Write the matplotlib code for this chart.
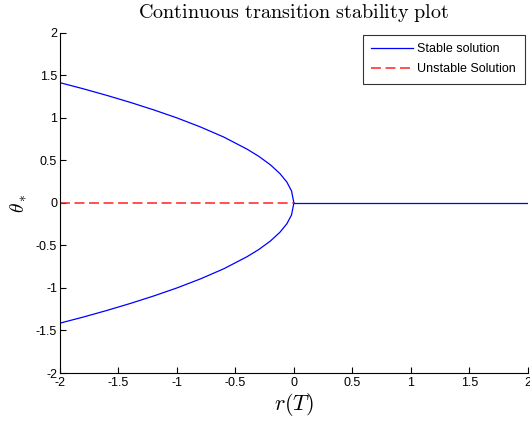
import matplotlib
matplotlib.use("Agg")
import matplotlib.pyplot as plt

plt.rcParams['mathtext.fontset'] = 'cm'
plt.rcParams['font.family'] = ['Liberation Sans', 'DejaVu Sans']

# Stable branch (upper and lower) for r < 0, and zero branch for r > 0
r_neg = [-2.0, -1.8, -1.6, -1.4, -1.2, -1.0, -0.8, -0.6, -0.4, -0.3, -0.2, -0.12, -0.06, -0.02, 0.0]
theta_up = [1.414, 1.342, 1.265, 1.183, 1.095, 1.0, 0.894, 0.775, 0.632, 0.548, 0.447, 0.346, 0.245, 0.141, 0.0]
theta_dn = [-v for v in theta_up]
r_pos = [0.0, 2.0]
theta_pos = [0.0, 0.0]

# Unstable branch: theta = 0 for r < 0
r_unst = [-2.0, 0.0]
theta_unst = [0.0, 0.0]

ticks = [-2, -1.5, -1, -0.5, 0, 0.5, 1, 1.5, 2]
tick_labels = ['-2', '-1.5', '-1', '-0.5', '0', '0.5', '1', '1.5', '2']

fig = plt.figure(figsize=(5.30, 4.21), dpi=100)
ax = fig.add_axes([0.113, 0.114, 0.883, 0.808])

blue = '#0000ff'
ax.plot(r_neg, theta_up, color=blue, lw=0.9, label='Stable solution')
ax.plot(r_neg, theta_dn, color=blue, lw=0.9)
ax.plot(r_pos, theta_pos, color=blue, lw=0.9)
ax.plot(r_unst, theta_unst, color='#ff2020', lw=1.1, ls=(0, (6.5, 3.0)),
        label='Unstable Solution')

ax.set_xlim(-2, 2)
ax.set_ylim(-2, 2)
ax.set_xticks(ticks)
ax.set_xticklabels(tick_labels)
ax.set_yticks(ticks)
ax.set_yticklabels(tick_labels)
ax.spines['top'].set_visible(False)
ax.spines['right'].set_visible(False)
ax.tick_params(direction='in', length=4, width=0.8, labelsize=9, pad=2)
ax.tick_params(axis='x', pad=3)

ax.set_title(r'$\mathrm{Continuous\ transition\ stability\ plot}$', fontsize=14.5, pad=11)
ax.set_xlabel(r'$r(T)$', fontsize=16, labelpad=1)
ax.set_ylabel(r'$\theta_*$', fontsize=14, labelpad=5)

leg = ax.legend(loc='upper right', fontsize=9, frameon=True, fancybox=False,
                edgecolor='black', handlelength=3.3, borderpad=0.7,
                labelspacing=0.65, handletextpad=0.35, borderaxespad=0,
                bbox_to_anchor=(0.993, 0.995))
leg.get_frame().set_linewidth(0.8)

fig.savefig('out.png', dpi=100)
